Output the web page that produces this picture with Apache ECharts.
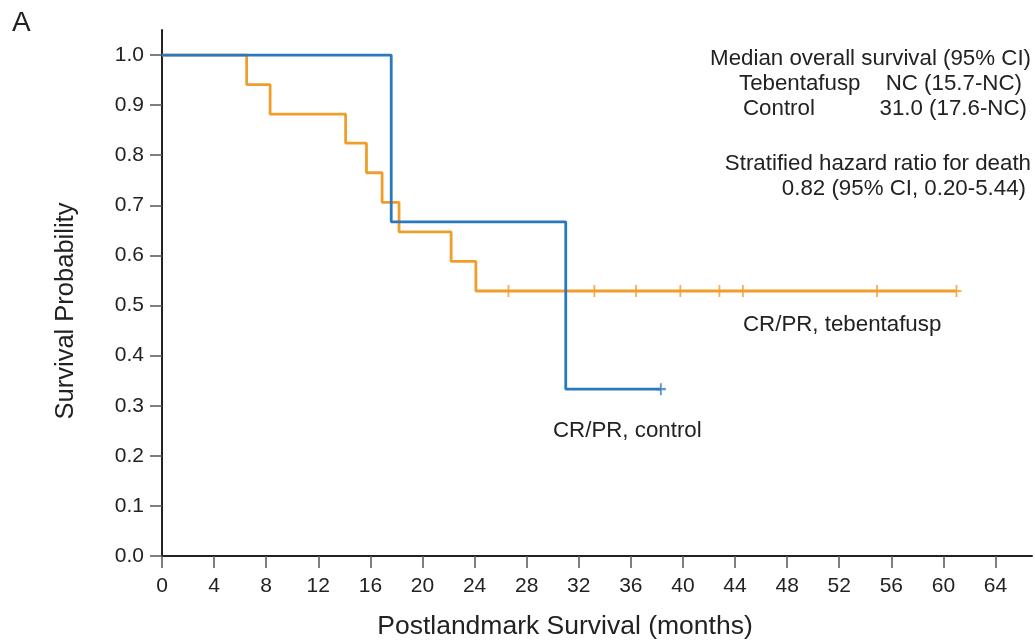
<!DOCTYPE html>
<html>
<head>
<meta charset="utf-8">
<script src="https://cdn.jsdelivr.net/npm/echarts@6/dist/echarts.min.js"></script>
<style>
html,body{margin:0;padding:0;background:#fff;}
#chart{width:1035px;height:642px;}
</style>
</head>
<body>
<div id="chart"></div>
<script>
// ---- data ----
var tebTimes    = [0, 6.5, 8.3, 14.1, 15.7, 16.9, 18.2, 22.2, 24.1, 61.0];
var tebSurv     = [1.0, 0.941, 0.882, 0.824, 0.765, 0.706, 0.647, 0.588, 0.529, 0.529];
var tebCensorT  = [26.6, 33.2, 36.4, 39.8, 42.8, 44.6, 54.9, 61.0];
var tebCensorS  = [0.529, 0.529, 0.529, 0.529, 0.529, 0.529, 0.529, 0.529];

var ctlTimes    = [0, 17.6, 31.0, 38.3];
var ctlSurv     = [1.0, 0.667, 0.333, 0.333];
var ctlCensorT  = [38.3];
var ctlCensorS  = [0.333];

var xTicks = [0, 4, 8, 12, 16, 20, 24, 28, 32, 36, 40, 44, 48, 52, 56, 60, 64];
var yTicks = [0, 0.1, 0.2, 0.3, 0.4, 0.5, 0.6, 0.7, 0.8, 0.9, 1.0];

var seriesNames = ['Tebentafusp', 'Control'];
var curveLabels = ['CR/PR, tebentafusp', 'CR/PR, control'];
var xTitle = 'Postlandmark Survival (months)';
var yTitle = 'Survival Probability';
var panelLabel = 'A';
var statsHeader = 'Median overall survival (95% CI)';
var statsNames = ['Tebentafusp', 'Control'];
var statsValues = ['NC (15.7-NC)', '31.0 (17.6-NC)'];
var hrHeader = 'Stratified hazard ratio for death';
var hrValue = '0.82 (95% CI, 0.20-5.44)';

// ---- build ----
function zip(a, b) { return a.map(function (v, i) { return [v, b[i]]; }); }

var ORANGE = '#EF9E2C';
var BLUE = '#2A79BF';
var TXT = '#222';
var FONT = "'Liberation Sans', Arial, sans-serif";
var plus = 'path://M4.1,0H5.9V4.1H10V5.9H5.9V10H4.1V5.9H0V4.1H4.1Z';

var chart = echarts.init(document.getElementById('chart'), null, {renderer: 'canvas'});

function txt(x, y, s, size, align, extra) {
  var o = {
    type: 'text', x: x, y: y, z: 100,
    style: {text: s, fill: TXT, font: size + 'px ' + FONT, align: align || 'left', verticalAlign: 'middle'}
  };
  if (extra) for (var k in extra) o[k] = extra[k];
  return o;
}

var option = {
  animation: false,
  backgroundColor: '#fff',
  grid: {left: 162, width: 870, top: 30, bottom: 86, containLabel: false},
  xAxis: {
    type: 'value', min: 0, max: 66.8, interval: 4,
    axisLine: {show: true, lineStyle: {color: '#222', width: 2}},
    axisTick: {show: true, length: 12, customValues: xTicks, lineStyle: {color: '#555', width: 1.5}},
    axisLabel: {customValues: xTicks, color: TXT, fontSize: 21, fontFamily: FONT, margin: 20},
    splitLine: {show: false}
  },
  yAxis: {
    type: 'value', min: 0, max: 1.05, interval: 0.1,
    axisLine: {show: true, lineStyle: {color: '#222', width: 2}},
    axisTick: {show: true, length: 12, customValues: yTicks, lineStyle: {color: '#555', width: 1.5}},
    axisLabel: {customValues: yTicks, color: TXT, fontSize: 21, fontFamily: FONT, margin: 18,
      formatter: function (v) { return v.toFixed(1); }},
    splitLine: {show: false}
  },
  series: [
    {name: seriesNames[0], type: 'line', step: 'end', data: zip(tebTimes, tebSurv), showSymbol: false,
      lineStyle: {color: ORANGE, width: 2.8}, z: 3},
    {name: seriesNames[1], type: 'line', step: 'end', data: zip(ctlTimes, ctlSurv), showSymbol: false,
      lineStyle: {color: BLUE, width: 2.8}, z: 4},
    {name: seriesNames[0] + ' censored', type: 'scatter', data: zip(tebCensorT, tebCensorS), symbol: plus,
      symbolSize: [10, 12], itemStyle: {color: ORANGE}, z: 3},
    {name: seriesNames[1] + ' censored', type: 'scatter', data: zip(ctlCensorT, ctlCensorS), symbol: plus,
      symbolSize: [10, 12], itemStyle: {color: BLUE}, z: 4}
  ],
  graphic: [
    txt(12, 23, panelLabel, 28, 'left'),
    txt(66, 311, yTitle, 25.5, 'center', {rotation: Math.PI / 2}),
    txt(565, 627, xTitle, 26.5, 'center'),
    txt(1031, 59, statsHeader, 22.3, 'right'),
    txt(739, 84, statsNames[0], 22.3, 'left'),
    txt(1022, 84, statsValues[0], 22.3, 'right'),
    txt(743, 109, statsNames[1], 22.3, 'left'),
    txt(1027, 109, statsValues[1], 22.3, 'right'),
    txt(1031, 164, hrHeader, 22.3, 'right'),
    txt(1026, 189, hrValue, 22.3, 'right'),
    txt(743, 325, curveLabels[0], 22.3, 'left'),
    txt(553, 431, curveLabels[1], 22.3, 'left')
  ]
};
chart.setOption(option);
</script>
</body>
</html>
